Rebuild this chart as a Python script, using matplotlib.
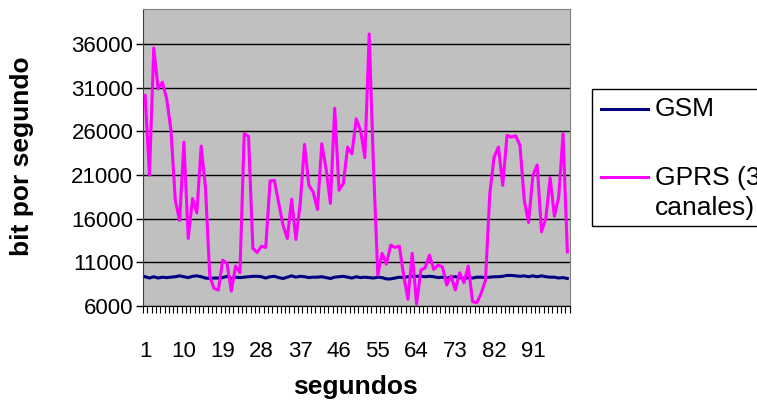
import numpy as np
import matplotlib
matplotlib.use("Agg")
import matplotlib.pyplot as plt
from matplotlib.lines import Line2D
from matplotlib.patches import Rectangle

plt.rcParams['font.family'] = ['Liberation Sans', 'DejaVu Sans']

seconds = list(range(1, 100))
gsm = [
    9350, 9200, 9350, 9200, 9300, 9250, 9300, 9350, 9450, 9350,
    9250, 9400, 9450, 9350, 9200, 9150, 9200, 9200, 9250, 9400,
    9150, 9300, 9250, 9300, 9350, 9400, 9400, 9350, 9200, 9350,
    9400, 9250, 9150, 9300, 9450, 9300, 9400, 9350, 9250, 9300,
    9300, 9350, 9250, 9150, 9300, 9350, 9400, 9300, 9200, 9350,
    9250, 9300, 9250, 9200, 9300, 9250, 9100, 9100, 9200, 9300,
    9250, 9350, 9400, 9400, 9400, 9350, 9400, 9350, 9250, 9300,
    9200, 9300, 9350, 9250, 9150, 9250, 9200, 9300, 9300, 9250,
    9300, 9350, 9350, 9400, 9500, 9500, 9450, 9400, 9450, 9350,
    9450, 9350, 9450, 9350, 9300, 9300, 9200, 9250, 9150,
]
gprs = [
    30100, 20960, 35540, 30860, 31620, 29720, 26100, 18100, 15790, 24760,
    13730, 18290, 16660, 24310, 19620, 9350, 8020, 7830, 11250, 10870,
    7710, 10570, 9810, 25720, 25410, 12590, 12130, 12850, 12700, 20310,
    20390, 17800, 15250, 13730, 18220, 13610, 17730, 24500, 19820, 19050,
    17050, 24580, 21720, 17730, 28650, 19250, 20010, 24190, 23430, 27430,
    26100, 22980, 37140, 22000, 9540, 12020, 10800, 12970, 12700, 12850,
    9540, 6760, 12020, 6230, 10110, 10380, 11820, 10190, 10680, 10490,
    8400, 9430, 7830, 9810, 8660, 10570, 6490, 6380, 7450, 8970,
    18870, 23050, 24190, 19820, 25530, 25330, 25490, 24390, 18100, 15560,
    20960, 22140, 14490, 16010, 20700, 16280, 18480, 25720, 12200,
]
yticks = [6000, 11000, 16000, 21000, 26000, 31000, 36000]
xtick_labels = [1, 10, 19, 28, 37, 46, 55, 64, 73, 82, 91]
series_names = ['GSM', 'GPRS (3\ncanales)']
ylabel = 'bit por segundo'
xlabel = 'segundos'

W, H = 757, 404
fig = plt.figure(figsize=(W / 100, H / 100), dpi=100)
fig.patch.set_facecolor('white')
L, R, T, B = 143, 569.5, 9, 306
ax = fig.add_axes([L / W, 1 - B / H, (R - L) / W, (B - T) / H])
ax.set_facecolor('#C0C0C0')

ax.plot(seconds, gsm, color='#000080', lw=2.2, solid_joinstyle='round', zorder=3)
ax.plot(seconds, gprs, color='#FF00FF', lw=2.2, solid_joinstyle='round', zorder=4)

ax.set_xlim(0.5, len(seconds) + 0.5)
ax.set_ylim(6000, 40000)
ax.set_yticks(yticks)
ax.set_yticklabels([str(v) for v in yticks], fontsize=16)
ax.yaxis.grid(True, color='black', lw=1)
ax.set_axisbelow(True)
ax.tick_params(axis='y', direction='out', length=5, width=1, pad=2, colors='black')

ax.set_xticks(xtick_labels)
ax.set_xticklabels([str(v) for v in xtick_labels], fontsize=16)
ax.set_xticks(np.arange(0.5, len(seconds) + 1, 1), minor=True)
ax.tick_params(axis='x', which='major', length=0, pad=25)
ax.tick_params(axis='x', which='minor', direction='out', length=5, width=0.8, colors='black')

for s in ['top', 'right']:
    ax.spines[s].set_color('#808080')
ax.spines['left'].set_color('#404040')
ax.spines['bottom'].set_color('black')

fig.text(22 / W, 1 - 156 / H, ylabel, rotation=90, fontsize=19, fontweight='bold',
         ha='center', va='center')
fig.text(355 / W, 1 - 387 / H, xlabel, fontsize=19, fontweight='bold',
         ha='center', va='center')

# legend
fig.patches.append(Rectangle((591.7 / W, 1 - 225.7 / H), (W + 20 - 591.7) / W, (225.7 - 89) / H,
                             transform=fig.transFigure, facecolor='white', edgecolor='black',
                             lw=1, clip_on=False))
colors = ['#000080', '#FF00FF']
ys = [109, 177]
for c, yv in zip(colors, ys):
    fig.lines.append(Line2D([601 / W, 648 / W], [1 - yv / H] * 2, transform=fig.transFigure,
                            color=c, lw=2.2))
fig.text(655 / W, 1 - 109 / H, series_names[0], fontsize=19, ha='left', va='center')
fig.text(655 / W, 1 - 178 / H, series_names[1].split('\n')[0], fontsize=19, ha='left', va='center')
fig.text(655 / W, 1 - 208 / H, series_names[1].split('\n')[1], fontsize=19, ha='left', va='center')

fig.savefig('out.png', dpi=100)
